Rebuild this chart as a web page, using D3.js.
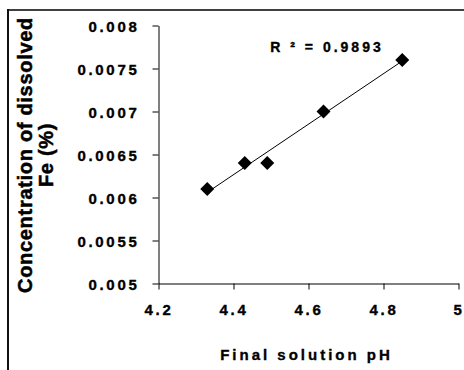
<!DOCTYPE html>
<html>
<head>
<meta charset="utf-8">
<script src="https://cdn.jsdelivr.net/npm/d3@7"></script>
<style>
  body { margin: 0; background: #fff; }
</style>
</head>
<body>
<div id="chart"></div>
<script>
// data
var phValues = [4.33, 4.43, 4.49, 4.64, 4.85];
var feValues = [0.0061, 0.0064, 0.0064, 0.0070, 0.0076];
var xTicks = [4.2, 4.4, 4.6, 4.8, 5];
var yTicks = [0.005, 0.0055, 0.006, 0.0065, 0.007, 0.0075, 0.008];
var r2Label = "R ² = 0.9893";

var points = phValues.map((d, i) => ({ x: d, y: feValues[i] }));
var font = "'Liberation Sans', Arial, sans-serif";

var svg = d3.select("#chart").append("svg")
    .attr("width", 464)
    .attr("height", 370)
    .style("font-family", font)
    .style("font-weight", "bold");

// outer frame (only left and top visible)
svg.append("line").attr("x1", 8).attr("x2", 464).attr("y1", 10).attr("y2", 10)
    .attr("stroke", "#404040").attr("stroke-width", 2);
svg.append("line").attr("x1", 8).attr("x2", 8).attr("y1", 9).attr("y2", 370)
    .attr("stroke", "#111").attr("stroke-width", 2);

var xScale = d3.scaleLinear().domain([4.2, 5]).range([158.5, 458.5]);
var yScale = d3.scaleLinear().domain([0.005, 0.008]).range([283.5, 25.5]);

// shared look for the bold labels
function boldText(sel, size, spacing) {
    sel.style("font-family", font)
        .attr("font-weight", "bold")
        .attr("font-size", size)
        .attr("letter-spacing", spacing)
        .attr("fill", "#000")
        .attr("stroke", "#000")
        .attr("stroke-width", 0.35);
}

// y axis
var yAxis = svg.append("g")
    .attr("transform", "translate(158.5,0)")
    .call(d3.axisLeft(yScale).tickValues(yTicks).tickSize(6).tickSizeOuter(0)
        .tickFormat(d => String(+d.toFixed(4))));
yAxis.attr("font-family", null).attr("font-size", null);
yAxis.select(".domain").attr("stroke", "#000");
yAxis.selectAll(".tick text").call(boldText, 15, 2.7)
    .attr("x", -19).attr("dy", "0.37em");

// x axis
var xAxis = svg.append("g")
    .attr("transform", "translate(0,283.5)")
    .call(d3.axisBottom(xScale).tickValues(xTicks).tickSize(6).tickSizeOuter(0)
        .tickFormat(d => String(d)));
xAxis.attr("font-family", null).attr("font-size", null);
xAxis.select(".domain").attr("stroke", "#000");
xAxis.selectAll(".tick text").call(boldText, 15, 2.7)
    .attr("y", 31.5).attr("dy", 0);

// linear trendline
var mx = d3.mean(phValues), my = d3.mean(feValues);
var slope = d3.sum(points, p => (p.x - mx) * (p.y - my)) / d3.sum(points, p => (p.x - mx) * (p.x - mx));
var inter = my - slope * mx;
var x0 = d3.min(phValues), x1 = d3.max(phValues);
svg.append("line")
    .attr("x1", xScale(x0)).attr("y1", yScale(inter + slope * x0))
    .attr("x2", xScale(x1)).attr("y2", yScale(inter + slope * x1))
    .attr("stroke", "#000").attr("stroke-width", 1);

// diamonds
svg.selectAll("path.pt")
    .data(points)
    .enter()
    .append("path")
    .attr("class", "pt")
    .attr("d", "M0,-7L7,0L0,7L-7,0Z")
    .attr("transform", d => `translate(${xScale(d.x)},${yScale(d.y)})`)
    .attr("fill", "#000");

// R squared label
svg.append("text")
    .attr("x", 327).attr("y", 51.5)
    .attr("text-anchor", "middle")
    .call(boldText, 14, 3)
    .text(r2Label);

// axis titles
svg.append("text")
    .attr("x", 306.5).attr("y", 360)
    .attr("text-anchor", "middle")
    .call(boldText, 15, 3)
    .text("Final solution pH");

var yTitle = svg.append("text")
    .attr("transform", "translate(32,155) rotate(-90)")
    .attr("text-anchor", "middle")
    .call(boldText, 20, 0.7)
    .attr("stroke-width", 0.5);
yTitle.append("tspan").attr("x", 0).attr("dy", 0).text("Concentration of dissolved");
yTitle.append("tspan").attr("x", 0).attr("dy", 21).text("Fe (%)");
</script>
</body>
</html>
